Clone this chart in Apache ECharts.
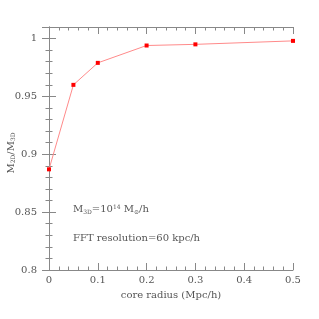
<!DOCTYPE html>
<html><head><meta charset="utf-8">
<script src="https://cdn.jsdelivr.net/npm/echarts@6/dist/echarts.min.js"></script>
<style>html,body{margin:0;padding:0;background:#fff}#c{width:319px;height:319px}</style>
</head><body><div id="c"></div>
<script>
const coreRadius = [0, 0.05, 0.1, 0.2, 0.3, 0.5];
const massRatio = [0.887, 0.960, 0.979, 0.994, 0.995, 0.998];
const xTicks = [0, 0.1, 0.2, 0.3, 0.4, 0.5];
const yTicks = [0.8, 0.85, 0.9, 0.95, 1];

const FONT = 'DejaVu Serif';
const TXT = '#555';
const AX = '#888';
function fmt(v){ return Math.round(v*1000)/1000; }
const chart = echarts.init(document.getElementById('c'));
const tickCommon = {inside:true, length:7, lineStyle:{color:AX, width:1}};
const minorCommon = {show:true, splitNumber:5, length:3.5, lineStyle:{color:AX, width:1}};
chart.setOption({
  animation:false,
  grid:{left:49, right:26, top:27, bottom:49, containLabel:false, outerBoundsMode:'none'},
  xAxis:[{
    type:'value', min:0, max:0.5, interval:0.1, position:'bottom',
    axisLine:{lineStyle:{color:AX}}, axisTick:tickCommon, minorTick:minorCommon,
    splitLine:{show:false},
    axisLabel:{color:TXT, fontFamily:FONT, fontSize:10, margin:5,
      formatter:v=>{const r=fmt(v);return xTicks.includes(r)?String(r):'';}},
    name:'core radius (Mpc/h)', nameLocation:'middle', nameGap:20, nameMoveOverlap:false,
    nameTextStyle:{color:TXT, fontFamily:FONT, fontSize:10}
  },{
    type:'value', min:0, max:0.5, interval:0.1, position:'top',
    axisLine:{lineStyle:{color:AX}}, axisTick:tickCommon, minorTick:minorCommon,
    splitLine:{show:false}, axisLabel:{show:false}
  }],
  yAxis:[{
    type:'value', min:0.8, max:1.01, interval:0.05, position:'left',
    axisLine:{lineStyle:{color:AX}}, axisTick:tickCommon, minorTick:minorCommon,
    splitLine:{show:false},
    axisLabel:{color:TXT, fontFamily:FONT, fontSize:10, margin:12, showMaxLabel:false,
      formatter:v=>{const r=fmt(v);return yTicks.includes(r)?String(r):'';}}
  },{
    type:'value', min:0.8, max:1.01, interval:0.05, position:'right',
    axisLine:{lineStyle:{color:AX}}, axisTick:tickCommon, minorTick:minorCommon,
    splitLine:{show:false}, axisLabel:{show:false}
  }],
  graphic:[
    {type:'text', x:11, y:153, rotation:Math.PI/2, style:{
      text:'{m|M}{s|2D}{m|/M}{s|3D}', align:'center', verticalAlign:'middle',
      rich:{
        m:{fill:TXT, fontFamily:FONT, fontSize:10},
        s:{fill:TXT, fontFamily:FONT, fontSize:6, padding:[5,0,0,0]}
      }}},
    {type:'text', left:73, top:204, style:{
      text:'{m|M}{s|3D}{m|=10}{p|14}{m| M}{s|⊙}{m|/h}',
      rich:{
        m:{fill:TXT, fontFamily:FONT, fontSize:10},
        s:{fill:TXT, fontFamily:FONT, fontSize:6, padding:[5,0,0,0]},
        p:{fill:TXT, fontFamily:FONT, fontSize:6, padding:[0,0,5,0]}
      }}},
    {type:'text', left:73, top:233, style:{text:'FFT resolution=60 kpc/h', fill:TXT, fontFamily:FONT, fontSize:10}}
  ],
  series:[{
    type:'line', xAxisIndex:0, yAxisIndex:0,
    data:coreRadius.map((x,i)=>[x, massRatio[i]]),
    symbol:'rect', symbolSize:4,
    itemStyle:{color:'#ff0000'},
    lineStyle:{color:'#ff8a8a', width:1}
  }]
});
</script></body></html>
